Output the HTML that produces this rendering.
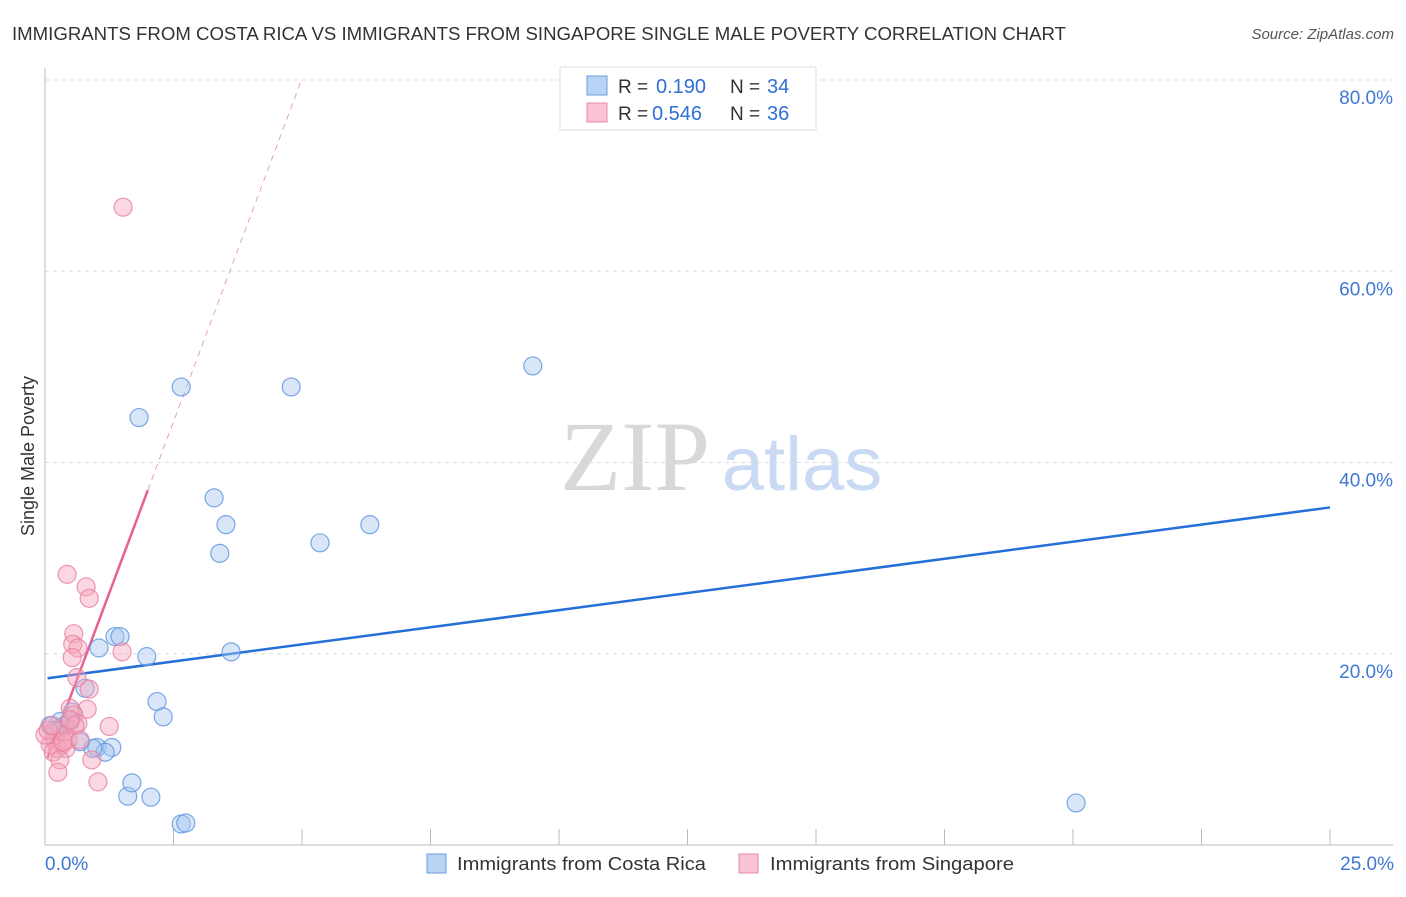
<!DOCTYPE html>
<html><head><meta charset="utf-8"><style>
body{margin:0;background:#fff;width:1406px;height:892px;overflow:hidden;font-family:"Liberation Sans",sans-serif}
</style></head><body>
<svg width="1406" height="892" xmlns="http://www.w3.org/2000/svg" font-family="Liberation Sans, sans-serif" id="chart">
<text x="12" y="40" font-size="18" fill="#333" textLength="1054" lengthAdjust="spacingAndGlyphs">IMMIGRANTS FROM COSTA RICA VS IMMIGRANTS FROM SINGAPORE SINGLE MALE POVERTY CORRELATION CHART</text>
<text x="1394" y="39" font-size="15" fill="#555" text-anchor="end" font-style="italic">Source: ZipAtlas.com</text>
<text x="34" y="456" font-size="18" fill="#333" text-anchor="middle" transform="rotate(-90 34 456)">Single Male Poverty</text>
<g><text x="635" y="490" font-size="100" font-family="Liberation Serif, serif" fill="#d8d8d8" text-anchor="middle">ZIP</text><text x="802" y="490" font-size="76" fill="#c9daf2" text-anchor="middle">atlas</text></g>
<g id="grid"></g><g id="axes"></g><g id="lines"></g><g id="points"></g>
<g>
<rect x="560" y="67" width="256" height="63" fill="#fff" stroke="#ddd"/>
<rect x="587" y="76" width="20" height="19" fill="#b9d3f5" stroke="#6a9de0"/>
<rect x="587" y="103" width="20" height="19" fill="#fac4d4" stroke="#e98aaa"/>
<text x="618" y="93" font-size="19" fill="#333">R = </text><text x="656" y="93" font-size="20" fill="#2f6fd6">0.190</text>
<text x="730" y="93" font-size="19" fill="#333">N = </text><text x="767" y="93" font-size="20" fill="#2f6fd6">34</text>
<text x="618" y="120" font-size="19" fill="#333">R = </text><text x="652" y="120" font-size="20" fill="#2f6fd6">0.546</text>
<text x="730" y="120" font-size="19" fill="#333">N = </text><text x="767" y="120" font-size="20" fill="#2f6fd6">36</text>
</g>
<g>
<rect x="427" y="854" width="19" height="19" fill="#b9d3f5" stroke="#6a9de0"/>
<text x="457" y="870" font-size="18" fill="#333" textLength="249" lengthAdjust="spacingAndGlyphs">Immigrants from Costa Rica</text>
<rect x="739" y="854" width="19" height="19" fill="#fac4d4" stroke="#e98aaa"/>
<text x="770" y="870" font-size="18" fill="#333" textLength="244" lengthAdjust="spacingAndGlyphs">Immigrants from Singapore</text>
</g>
</svg>
<script>
const yTicks=[20,40,60,80];
const xTicks=[0,2.5,5,7.5,10,12.5,15,17.5,20,22.5,25];
const blueX=[9.49,2.65,4.79,1.83,3.29,3.52,6.32,3.40,5.35,1.36,1.46,1.05,1.98,3.62,0.78,2.18,2.30,20.06,1.61,2.06,2.65,2.74,1.69,1.01,1.30,1.17,0.93,0.68,0.29,0.39,0.49,0.10,0.19,0.53];
const blueY=[50.1,47.9,47.9,44.7,36.3,33.5,33.5,30.5,31.6,21.8,21.8,20.6,19.7,20.2,16.4,15.0,13.4,4.4,5.1,5.0,2.2,2.3,6.5,10.2,10.2,9.7,10.1,10.8,12.9,12.5,12.9,12.5,12.0,13.9];
const pinkX=[1.52,0.43,0.80,0.86,0.56,0.54,0.64,0.53,1.50,0.62,0.86,0.49,0.82,0.56,1.25,0.64,0.29,0.39,0.19,0.10,0.33,0.45,0.25,0.16,0.41,0.00,0.06,0.14,0.29,0.25,1.03,0.91,0.58,0.49,0.68,0.35];
const pinkY=[66.7,28.3,27.0,25.8,22.1,21.0,20.6,19.6,20.2,17.5,16.3,14.3,14.2,13.6,12.4,12.7,12.0,11.5,11.0,10.5,10.5,11.0,10.1,9.7,10.1,11.5,12.0,12.5,8.9,7.6,6.6,8.9,12.5,13.1,11.0,10.8];
const blueTrend=[17.4,35.3];
const pinkTrend=[8.4,14.35];
const X=v=>45+v/25*1285, Y=v=>845-v/80*765;
const NS="http://www.w3.org/2000/svg";
function mk(t,a,p){const e=document.createElementNS(NS,t);for(const k in a)e.setAttribute(k,a[k]);document.getElementById(p).appendChild(e);return e;}
yTicks.forEach(v=>{
 const l=mk('line',{x1:45,x2:1393,y1:Y(v),y2:Y(v),stroke:'#ddd','stroke-dasharray':'4,4'},'grid');
 
 
 const t=mk('text',{x:1393,y:Y(v)+24,'font-size':19,fill:'#3f78d4','text-anchor':'end'},'grid');t.textContent=v.toFixed(1)+'%';
 
 
});
const ax=mk('line',{x1:45,x2:1393,y1:845,y2:845,stroke:'#bbb'},'axes');


const ay=mk('line',{x1:45,x2:45,y1:68,y2:845,stroke:'#bbb'},'axes');


xTicks.forEach(v=>{const t=mk('line',{x1:X(v),x2:X(v),y1:829,y2:845,stroke:'#bbb'},'axes');
 
 });
[[0,'start',45],[25,'end',1394]].forEach(([v,a,x])=>{const t=mk('text',{x:x,y:870,'font-size':19,fill:'#3f78d4','text-anchor':a},'axes');t.textContent=v.toFixed(1)+'%';
 
 });
function pts(xs,ys,f,s,n){xs.forEach((x,i)=>{const c=mk('circle',{cx:X(x),cy:Y(ys[i]),r:9,fill:f,'fill-opacity':0.45,stroke:s,'stroke-opacity':0.8,'stroke-width':1.2},'points');
 
 });}
pts(blueX,blueY,'#a9c8f0','#5b93e0','costa-rica-point');
pts(pinkX,pinkY,'#f4a7bd','#e87fa0','singapore-point');
const bl=mk('line',{x1:X(0.05),y1:Y(blueTrend[0]+0.05*(blueTrend[1]-blueTrend[0])/25),x2:X(25),y2:Y(blueTrend[1]),stroke:'#2470d8','stroke-width':2.5},'lines');


const pe=2.0, pend=(80-pinkTrend[0])/pinkTrend[1];
const pl=mk('line',{x1:X(0.05),y1:Y(pinkTrend[0]+0.05*pinkTrend[1]),x2:X(pe),y2:Y(pinkTrend[0]+pe*pinkTrend[1]),stroke:'#e8608f','stroke-width':2.5},'lines');


const pd=mk('line',{x1:X(pe),y1:Y(pinkTrend[0]+pe*pinkTrend[1]),x2:X(pend),y2:Y(80),stroke:'#e8a0b8','stroke-width':1,'stroke-dasharray':'6,5'},'lines');


</script>
</body></html>
